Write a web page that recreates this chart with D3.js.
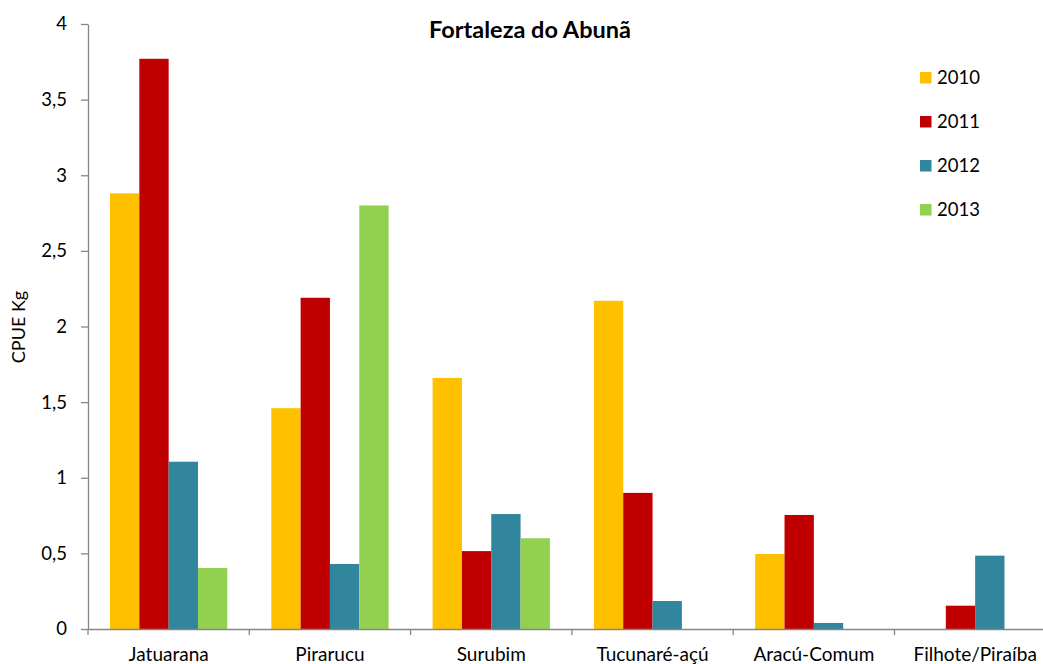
<!DOCTYPE html>
<html><head><meta charset="utf-8">
<script src="https://cdn.jsdelivr.net/npm/d3@7"></script>
<style>body{margin:0;background:#fff}svg{display:block}text{font-family:Lato,"Open Sans",sans-serif;fill:#000}</style>
</head><body>
<svg id="c" width="1043" height="664"></svg>
<script>
const categories = ["Jatuarana","Pirarucu","Surubim","Tucunaré-açú","Aracú-Comum","Filhote/Piraíba"];
const years = ["2010","2011","2012","2013"];
const v2010 = [2.88, 1.46, 1.66, 2.17, 0.496, 0];
const v2011 = [3.77, 2.19, 0.515, 0.90, 0.754, 0.154];
const v2012 = [1.106, 0.43, 0.76, 0.185, 0.04, 0.485];
const v2013 = [0.403, 2.80, 0.60, 0, 0, 0];
const yTicks = [0,0.5,1,1.5,2,2.5,3,3.5,4];
const colors = ["#FFC000","#C00000","#31859C","#92D050"];
const series = [v2010, v2011, v2012, v2013];

const svg = d3.select("#c");
const FF = "Lato, 'Open Sans', sans-serif";
const x0 = 88, plotRight = 88 + 161.3*6, yTop = 24, yBot = 629;
const x = d3.scaleBand().domain(categories).range([x0, plotRight]).paddingInner(0).paddingOuter(0);
const xi = d3.scaleBand().domain(years).range([0, x.bandwidth()]).paddingOuter(0.75).paddingInner(0);
const y = d3.scaleLinear().domain([0,4]).range([yBot, yTop]);
const fmt = d => String(d).replace(".", ",");

// bars
categories.forEach((c, ci) => {
  series.forEach((s, si) => {
    const v = s[ci];
    if (!v) return;
    svg.append("rect")
      .attr("x", x(c) + xi(years[si]))
      .attr("y", y(v))
      .attr("width", xi.bandwidth())
      .attr("height", y(0) - y(v))
      .attr("fill", colors[si]);
  });
});

// y axis
const ya = svg.append("g").attr("transform", `translate(${x0},0)`)
  .call(d3.axisLeft(y).tickValues(yTicks).tickFormat(fmt).tickSize(7).tickSizeOuter(0));
ya.select(".domain").attr("stroke", "#868686").attr("stroke-width", 1.3);
ya.selectAll(".tick line").attr("stroke", "#868686").attr("stroke-width", 1.3);
ya.selectAll(".tick text").attr("font-size", 18.5).attr("x", -21).style("font-family", FF);

// x axis
const xa = svg.append("g").attr("transform", `translate(0,${yBot})`)
  .call(d3.axisBottom(x).tickSize(0).tickSizeOuter(0));
xa.select(".domain").attr("stroke", "#868686").attr("stroke-width", 1.3);
xa.selectAll(".tick text").attr("font-size", 19).attr("y", 18.5).style("font-family", FF);
// category boundary ticks
const bounds = categories.map(c => x(c)).concat([plotRight]);
svg.selectAll(".bt").data(bounds).enter().append("line")
  .attr("x1", d => d).attr("x2", d => d).attr("y1", yBot).attr("y2", yBot + 6)
  .attr("stroke", "#868686").attr("stroke-width", 1.3);

// title
svg.append("text").attr("x", 530).attr("y", 38).attr("text-anchor", "middle")
  .attr("font-size", 23.5).attr("font-weight", "bold").text("Fortaleza do Abunã");

// y label
svg.append("text").attr("transform", "translate(25,327) rotate(-90)").attr("text-anchor", "middle")
  .attr("font-size", 18).text("CPUE Kg");

// legend
const lg = svg.append("g");
years.forEach((yr, i) => {
  const cy = 77.7 + i*44;
  lg.append("rect").attr("x", 920).attr("y", cy - 5.7).attr("width", 11.5).attr("height", 11.5).attr("fill", colors[i]);
  lg.append("text").attr("x", 937).attr("y", cy + 6.5).attr("font-size", 18.5).text(yr);
});
</script>
</body></html>
